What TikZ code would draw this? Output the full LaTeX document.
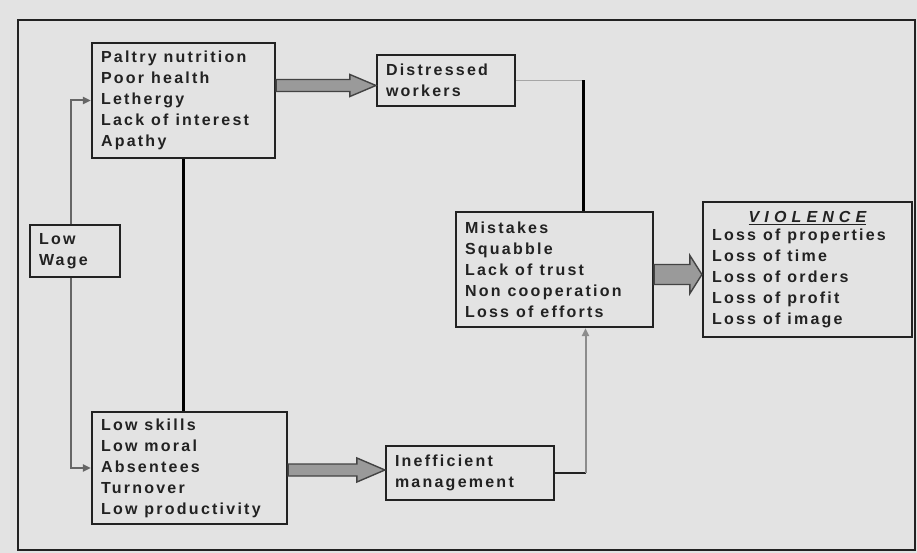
\documentclass[tikz,border=0pt]{standalone}
\usepackage{fontspec}
\setmainfont{Liberation Sans}[LetterSpace=14]
\newfontfamily\vfont{Liberation Sans}[LetterSpace=32]
\usetikzlibrary{calc,arrows.meta}
\definecolor{bg}{HTML}{E3E3E3}
\definecolor{ink}{HTML}{222222}
\definecolor{arrfill}{HTML}{9A9A9A}
\newcommand{\blockarrow}[5]{%
  \draw[barrow] let \p1=#1, \p2=#2 in
    (\x1,\y1+#3) -- (\x2-#5,\y1+#3) -- (\x2-#5,\y1+#4) -- (\x2,\y1)
    -- (\x2-#5,\y1-#4) -- (\x2-#5,\y1-#3) -- (\x1,\y1-#3) -- cycle;}
\newcommand{\ws}{\hspace{7pt}}
\begin{document}
\begin{tikzpicture}[x=1pt,y=-1pt,
  box/.style={draw=ink, line width=2.2pt, inner xsep=9pt, inner ysep=0pt,
    align=left, font=\bfseries\fontsize{16}{21}\selectfont, text=ink},
  conn/.style={draw=black!60, line width=2pt},
  darkconn/.style={draw=ink, line width=2.2pt},
  heavyline/.style={draw=black, line width=3pt},
  tip/.style={-{Triangle[length=8pt,width=7pt]}},
  barrow/.style={fill=arrfill, draw=ink!85, line width=1.4pt, line join=miter}]

\fill[bg] (0,0) rectangle (917,553);
\draw[ink, line width=2pt] (18,20) rectangle (915,550);

\node[box, minimum width=183pt, minimum height=115pt, text width=165pt] (b1) at (183.5,100.5)
  {Paltry\ws nutrition\\Poor\ws health\\Lethergy\\Lack\ws of\ws interest\\Apathy};
\node[box, minimum width=138pt, minimum height=51pt, text width=120pt] (dw) at (446,80.5)
  {Distressed\\workers};
\node[box, minimum width=90pt, minimum height=52pt, text width=72pt] (lw) at (75,251)
  {Low\\Wage};
\node[box, minimum width=195pt, minimum height=112pt, text width=177pt] (b4) at (189.5,468)
  {Low\ws skills\\Low\ws moral\\Absentees\\Turnover\\Low\ws productivity};
\node[box, minimum width=168pt, minimum height=54pt, text width=150pt] (ie) at (470,473)
  {Inefficient\\management};
\node[box, minimum width=197pt, minimum height=115pt, text width=179pt] (mk) at (554.5,269.5)
  {Mistakes\\Squabble\\Lack\ws of\ws trust\\Non\ws cooperation\\Loss\ws of\ws efforts};
\node[box, minimum width=209pt, minimum height=135pt, text width=191pt] (vi) at (807.5,269.5)
  {\makebox[191pt][c]{\vfont\bfseries\itshape\underline{VIOLENCE}}\\[-3pt]Loss\ws of\ws properties\\Loss\ws of\ws time\\Loss\ws of\ws orders\\Loss\ws of\ws profit\\Loss\ws of\ws image};

% Low wage connectors
\draw[conn, tip] ([xshift=-4pt]lw.north) |- (b1.west);
\draw[conn, tip] ([xshift=-4pt]lw.south) |- (b4.west);

% heavy vertical between the two left boxes
\draw[heavyline] (b1.south) -- (b1.south |- b4.north);

% block arrows
\blockarrow{($(b1.east|-dw.west)+(0,5)$)}{($(dw.west)+(0,5)$)}{6pt}{11pt}{26pt}
\blockarrow{($(b4.east|-ie.west)+(0,-3)$)}{($(ie.west)+(0,-3)$)}{6pt}{12pt}{28pt}
\blockarrow{($(mk.east)+(0,5)$)}{($(vi.west)+(0,5)$)}{10pt}{19pt}{12pt}

% distressed workers -> mistakes
\coordinate (j1) at ([xshift=28.5pt]mk.north |- dw.east);
\draw[conn, line width=1.5pt, draw=black!35] (dw.east) -- (j1);
\draw[heavyline] (j1) -- ([xshift=28.5pt]mk.north);

% inefficient management -> mistakes
\coordinate (j2) at ([xshift=31pt]mk.south |- ie.east);
\draw[darkconn] (ie.east) -- (j2);
\draw[conn, draw=black!45, tip] (j2) -- ([xshift=31pt]mk.south);
\end{tikzpicture}
\end{document}
